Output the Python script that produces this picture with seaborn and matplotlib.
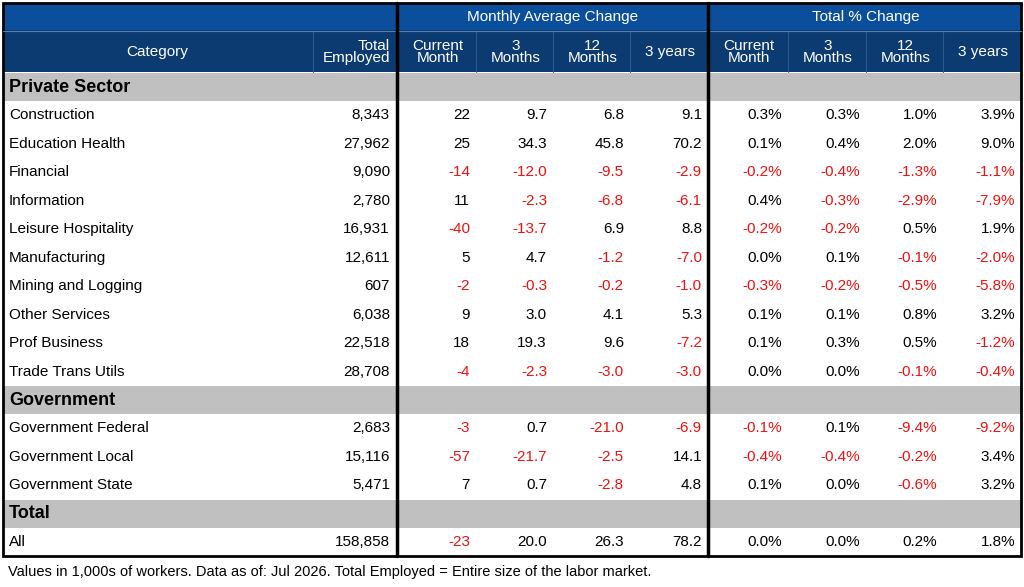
import matplotlib
matplotlib.use("Agg")
import matplotlib.pyplot as plt
import seaborn as sns
from matplotlib.patches import Rectangle

sns.set_theme(style="white")
plt.rcParams["font.family"] = ["Liberation Sans", "DejaVu Sans"]

sections = ["Private Sector", "Government", "Total"]
categories = [
    ["Construction", "Education Health", "Financial", "Information", "Leisure Hospitality",
     "Manufacturing", "Mining and Logging", "Other Services", "Prof Business", "Trade Trans Utils"],
    ["Government Federal", "Government Local", "Government State"],
    ["All"],
]
total_employed = [8343, 27962, 9090, 2780, 16931, 12611, 607, 6038, 22518, 28708,
                  2683, 15116, 5471, 158858]
chg_current = [22, 25, -14, 11, -40, 5, -2, 9, 18, -4, -3, -57, 7, -23]
chg_3m = [9.7, 34.3, -12.0, -2.3, -13.7, 4.7, -0.3, 3.0, 19.3, -2.3, 0.7, -21.7, 0.7, 20.0]
chg_12m = [6.8, 45.8, -9.5, -6.8, 6.9, -1.2, -0.2, 4.1, 9.6, -3.0, -21.0, -2.5, -2.8, 26.3]
chg_3y = [9.1, 70.2, -2.9, -6.1, 8.8, -7.0, -1.0, 5.3, -7.2, -3.0, -6.9, 14.1, 4.8, 78.2]
pct_current = [0.3, 0.1, -0.2, 0.4, -0.2, 0.0, -0.3, 0.1, 0.1, 0.0, -0.1, -0.4, 0.1, 0.0]
pct_3m = [0.3, 0.4, -0.4, -0.3, -0.2, 0.1, -0.2, 0.1, 0.3, 0.0, 0.1, -0.4, 0.0, 0.0]
pct_12m = [1.0, 2.0, -1.3, -2.9, 0.5, -0.1, -0.5, 0.8, 0.5, -0.1, -9.4, -0.2, -0.6, 0.2]
pct_3y = [3.9, 9.0, -1.1, -7.9, 1.9, -2.0, -5.8, 3.2, -1.2, -0.4, -9.2, 3.4, 3.2, 1.8]
group_headers = ["Monthly Average Change", "Total % Change"]
col_headers = ["Current\nMonth", "3\nMonths", "12\nMonths", "3 years"]
footer = "Values in 1,000s of workers. Data as of: Jul 2026. Total Employed = Entire size of the labor market."

W, H = 1024, 587
fig = plt.figure(figsize=(W / 100, H / 100), dpi=100)
ax = fig.add_axes([0, 0, 1, 1])
ax.set_xlim(0, W)
ax.set_ylim(H, 0)
ax.axis("off")

BLUE1 = "#0b4f9c"
BLUE2 = "#0b3b70"
GRAY = "#c0c0c0"
RED = "#ee1111"
FS = 11

x0, x1 = 3, 1021
xcols = [3, 313, 397, 476, 553, 630, 708, 788, 866, 943, 1021]

# header rows
ax.add_patch(Rectangle((x0, 3), x1 - x0, 27, color=BLUE1, lw=0))
ax.add_patch(Rectangle((x0, 30), x1 - x0, 42, color=BLUE2, lw=0))
ax.text((400 + 705) / 2, 17, group_headers[0], color="white", fontsize=FS, ha="center", va="center")
ax.text((711 + 1020) / 2, 17, group_headers[1], color="white", fontsize=FS, ha="center", va="center")
ax.text(157, 52, "Category", color="white", fontsize=FS, ha="center", va="center")
ax.text(390, 52, "Total\nEmployed", color="white", fontsize=FS, ha="right", va="center", linespacing=0.8)
for g in range(2):
    for i, h in enumerate(col_headers):
        xa, xb = xcols[2 + g * 4 + i], xcols[3 + g * 4 + i]
        ax.text((xa + xb) / 2 + 1, 52, h, color="white", fontsize=FS, ha="center", va="center", linespacing=0.8)
for xc in xcols[1:-1]:
    if xc not in (397, 708):
        ax.plot([xc, xc], [31, 72], color="#2a5a90", lw=0.8)
ax.plot([x0, x1], [30.5, 30.5], color="#5a7fb0", lw=0.8)


def fmt(v, pct=False, dec=1):
    s = f"{v:.{dec}f}"
    return s + "%" if pct else s


y = 73
row_h = 28.5
k = 0
for s, cats in zip(sections, categories):
    ax.add_patch(Rectangle((x0, y), x1 - x0, 28, color=GRAY, lw=0))
    ax.text(9, y + 14.5, s, fontsize=13, fontweight="bold", va="center", color="black")
    y += 28
    for c in cats:
        yc = y + row_h / 2
        ax.text(9, yc, c, fontsize=FS, va="center", color="black")
        ax.text(390, yc, f"{total_employed[k]:,}", fontsize=FS, va="center", ha="right", color="black")
        vals = [(chg_current[k], False, 0), (chg_3m[k], False, 1), (chg_12m[k], False, 1), (chg_3y[k], False, 1),
                (pct_current[k], True, 1), (pct_3m[k], True, 1), (pct_12m[k], True, 1), (pct_3y[k], True, 1)]
        for j, (v, p, d) in enumerate(vals):
            xr = xcols[3 + j] - 6
            ax.text(xr, yc, fmt(v, p, d), fontsize=FS, va="center", ha="right",
                    color=RED if v < 0 else "black")
        y += row_h
        k += 1

# frame and thick separators
ax.add_patch(Rectangle((x0, 3), x1 - x0, y - 3, fill=False, ec="black", lw=2))
for xc in (397, 708):
    ax.plot([xc, xc], [3, y], color="black", lw=2.5)

ax.text(8, 572, footer, fontsize=10.5, va="center", color="black")

fig.savefig("out.png", dpi=100)
